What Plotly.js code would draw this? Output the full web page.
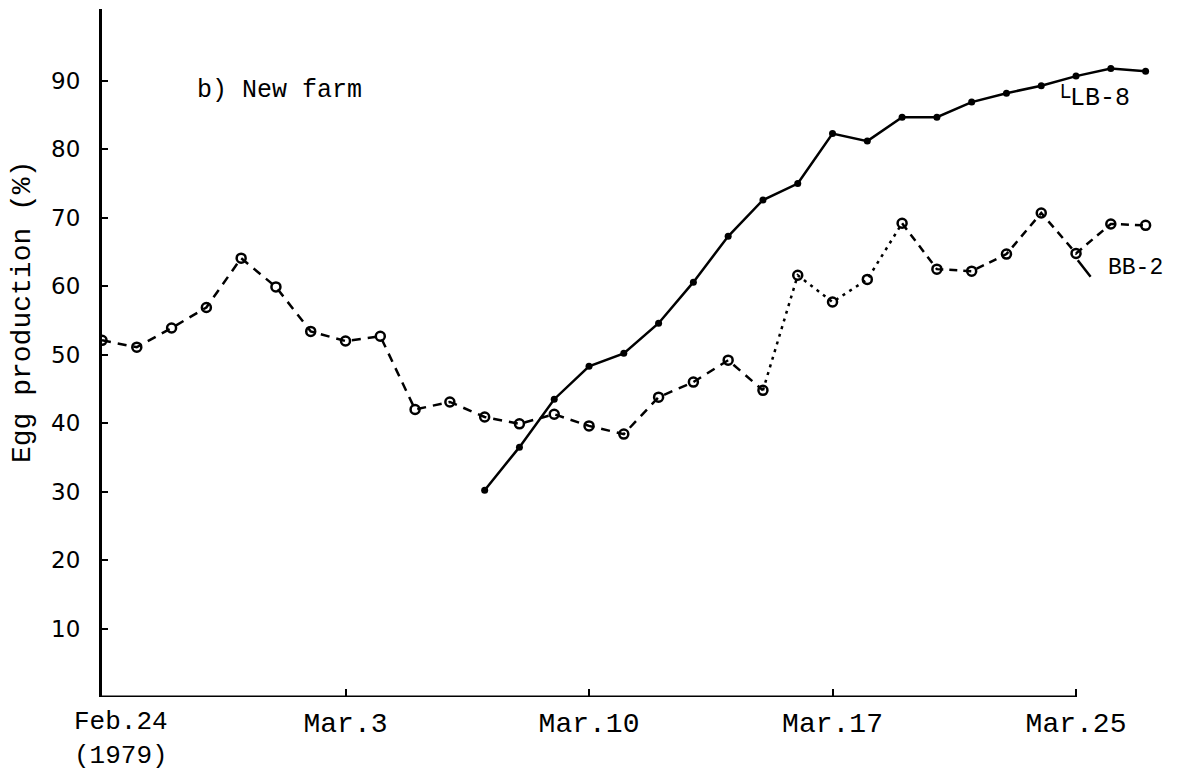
<!DOCTYPE html>
<html>
<head>
<meta charset="utf-8">
<script src="https://cdn.plot.ly/plotly-3.0.1.min.js"></script>
<style>html,body{margin:0;padding:0;background:#fff;}#chart{width:1185px;height:774px;}</style>
</head>
<body>
<div id="chart"></div>
<script>
// Day index 0 = Feb.24 (1979)
const bbDays = [0,1,2,3,4,5,6,7,8,9,10,11,12,13,14,15,16,17,18,19,20,21,22,23,24,25,26,27,28,29,30];
const bbValues = [52.1,51.1,53.9,56.9,64.1,59.9,53.4,52.0,52.7,42.0,43.1,40.9,39.9,41.3,39.6,38.4,43.8,46.0,49.2,44.8,61.6,57.7,61.0,69.2,62.5,62.2,64.7,70.7,64.8,69.1,68.9];
const lbDays = [11,12,13,14,15,16,17,18,19,20,21,22,23,24,25,26,27,28,29,30];
const lbValues = [30.2,36.5,43.5,48.3,50.2,54.6,60.6,67.3,72.6,75.0,82.3,81.2,84.7,84.7,86.9,88.2,89.3,90.7,91.8,91.4];
const tickDays = [7,14,21,28];
const tickLabels = ["Mar.3","Mar.10","Mar.17","Mar.25"];
const yTicks = [10,20,30,40,50,60,70,80,90];

const mono = "Liberation Mono, Courier New, monospace";
const dashedEnd = 19, dottedEnd = 23;

const traces = [
  {x: bbDays.slice(0, dashedEnd+1), y: bbValues.slice(0, dashedEnd+1), mode: "lines", line: {color: "#000", width: 2.5, dash: "9px,7px"}, hoverinfo: "skip"},
  {x: bbDays.slice(dashedEnd, dottedEnd+1), y: bbValues.slice(dashedEnd, dottedEnd+1), mode: "lines", line: {color: "#000", width: 2.5, dash: "3px,5px"}, hoverinfo: "skip"},
  {x: bbDays.slice(dottedEnd), y: bbValues.slice(dottedEnd), mode: "lines", line: {color: "#000", width: 2.5, dash: "8px,6px"}, hoverinfo: "skip"},
  {x: bbDays, y: bbValues, mode: "markers", name: "BB-2", marker: {symbol: "circle-open", size: 9, color: "#000", line: {width: 2.5, color: "#000"}}},
  {x: lbDays, y: lbValues, mode: "lines+markers", name: "LB-8", line: {color: "#000", width: 2.5}, marker: {symbol: "circle", size: 7, color: "#000"}}
];

const layout = {
  width: 1185, height: 774,
  margin: {l: 102, r: 22, t: 9, b: 77},
  paper_bgcolor: "#fff", plot_bgcolor: "#fff",
  showlegend: false,
  xaxis: {
    range: [0, 30.5], tickmode: "array", tickvals: tickDays, ticktext: tickLabels,
    ticks: "inside", ticklen: 8, tickwidth: 2, tickcolor: "#000",
    showgrid: false, zeroline: false, showline: false,
    tickfont: {family: mono, size: 28, color: "#000"}, ticklabelstandoff: 6
  },
  yaxis: {
    range: [0, 100.5], tickmode: "array", tickvals: yTicks,
    ticks: "inside", ticklen: 6, tickwidth: 2, tickcolor: "#000",
    showgrid: false, zeroline: false, showline: true, linewidth: 3, linecolor: "#000",
    tickfont: {family: "DejaVu Sans, sans-serif", size: 23, color: "#000"}, ticklabelstandoff: 14
  },
  shapes: [
    {type: "line", xref: "x", yref: "y", x0: 0, x1: tickDays[tickDays.length-1], y0: 0, y1: 0, line: {color: "#000", width: 3}}
  ],
  annotations: [
    {text: "Egg production (%)", xref: "paper", yref: "paper", x: -0.1, y: (697-312)/688, xanchor: "center", yanchor: "middle", textangle: -90, showarrow: false, font: {family: mono, size: 28, color: "#000"}, xshift: 22 - (102 - 0.1*1061)},
    {text: "Feb.24<br>(1979)", xref: "x", yref: "paper", x: 0, y: 0, xanchor: "center", yanchor: "top", xshift: 19, yshift: -9, borderpad: 0, showarrow: false, align: "left", font: {family: mono, size: 26, color: "#000"}},
    {text: "b) New farm", xref: "paper", yref: "paper", x: 0.088, y: 0.882, xanchor: "left", yanchor: "middle", showarrow: false, font: {family: mono, size: 25, color: "#000"}},
    {text: "└LB-8", xref: "x", yref: "y", x: 27.35, y: 87.4, xanchor: "left", yanchor: "middle", showarrow: false, font: {family: mono, size: 25, color: "#000"}},
    {text: "", xref: "x", yref: "y", x: 28.05, y: 63.8, ax: 14, ay: 18, showarrow: true, arrowhead: 0, arrowwidth: 2.5, arrowcolor: "#000"},
    {text: "BB-2", xref: "x", yref: "y", x: 28.85, y: 62.6, xanchor: "left", yanchor: "middle", showarrow: false, font: {family: mono, size: 23, color: "#000"}}
  ]
};

Plotly.newPlot("chart", traces, layout, {displayModeBar: false, staticPlot: true});
</script>
</body>
</html>
